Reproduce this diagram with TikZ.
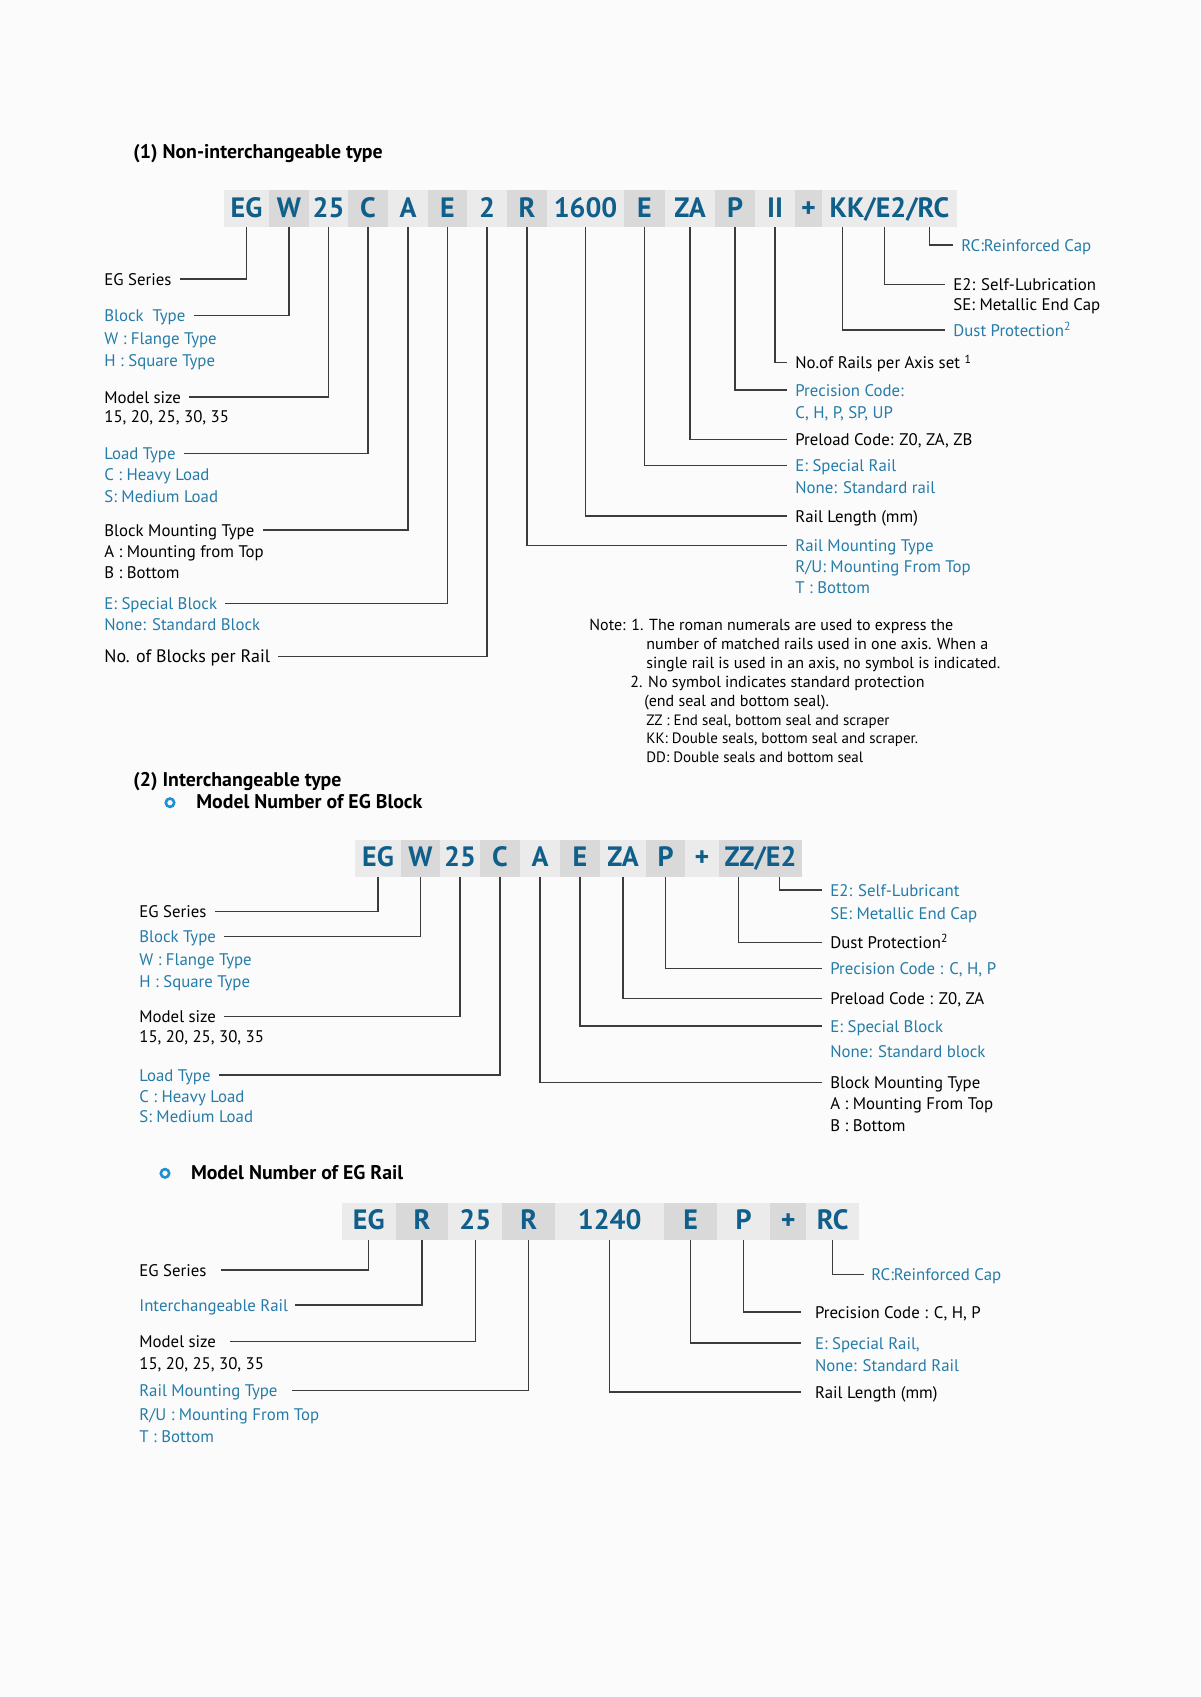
\documentclass[tikz,border=0pt]{standalone}
\usepackage{fontspec}
\setmainfont{PT Sans}
\usepackage{tikz}
\definecolor{codeblue}{RGB}{16,94,138}
\definecolor{lblblue}{RGB}{38,124,168}
\definecolor{boxlight}{RGB}{235,235,235}
\definecolor{boxdark}{RGB}{217,217,217}
\definecolor{leadgray}{RGB}{60,60,60}
\definecolor{dotblue}{RGB}{30,144,210}
\definecolor{pagebg}{RGB}{251,251,251}

\begin{document}
\begin{tikzpicture}[x=0.5pt,y=-0.5pt,
  code/.style={rectangle,inner sep=0pt,minimum height=18.5pt,text height=0.86em,text depth=0pt,text=codeblue,font=\fontsize{14}{16}\selectfont\bfseries},
  lead/.style={leadgray,line width=0.7pt},
  txt/.style={anchor=west,inner sep=0pt,text height=0.6em,text depth=0pt},
  lbl/.style={txt,inner xsep=4pt,font=\fontsize{8.4}{10}\selectfont},
  blu/.style={lbl,text=lblblue},
  lblL/.style={txt,inner xsep=7pt,font=\fontsize{8.4}{10}\selectfont},
  bluL/.style={lblL,text=lblblue},
  note/.style={txt,font=\fontsize{8}{10}\selectfont},
  notes/.style={txt,font=\fontsize{7.5}{9}\selectfont},
  title/.style={txt,font=\fontsize{9.9}{12}\selectfont\bfseries},
  bullet/.style={dotblue,line width=1.3pt}
]
\useasboundingbox (0,0) rectangle (1200,1697);
\fill[pagebg] (0,0) rectangle (1200,1697);

% (1) non-interchangeable
\node[title] (sec1) at (133,152) {(1) Non-interchangeable type};

\foreach \n/\xl/\xr/\txt/\fc in {1/224/269/EG/boxlight,2/269/309/W/boxdark,3/309/348/25/boxlight,
  4/348/388/C/boxdark,5/388/428/A/boxlight,6/428/467/E/boxdark,7/467/507/2/boxlight,
  8/507/547/R/boxdark,9/547/624/1600/boxlight,10/624/665/E/boxdark,11/665/715/ZA/boxlight,
  12/715/755/P/boxdark,13/755/795/II/boxlight,14/795/822/+/boxdark,15/822/957/{KK/E2/RC}/boxlight}{
  \node[code,fill=\fc,minimum width={(\xr-\xl)*0.5pt}] (a\n) at ({(\xl+\xr)/2},208.5) {\txt};
}

% left side
\node[lbl] (egser1) at (96,279) {EG Series};
\node[blu] (btype1) at (96,315.7) {Block~~Type};
\node[blu] (btypew1) at (96,338.3) {W : Flange Type};
\node[blu] (btypeh1) at (96,360) {H : Square Type};
\node[lbl] (msize1) at (96,397) {Model size};
\node[lbl] (msizev1) at (96,416.7) {15, 20, 25, 30, 35};
\node[blu] (ltype1) at (96,453.5) {Load Type};
\node[blu] (ltypec1) at (96,474) {C : Heavy Load};
\node[blu] (ltypes1) at (96,496) {S: Medium Load};
\node[lbl] (bmount1) at (96,530) {Block Mounting Type};
\node[lbl] (bmounta1) at (96,551) {A : Mounting from Top};
\node[lbl] (bmountb1) at (96,572.7) {B : Bottom};
\node[blu] (eblock1) at (96,603.5) {E: Special Block};
\node[blu] (eblockn1) at (96,624) {None: Standard Block};
\node[lbl,font=\fontsize{9}{11}\selectfont] (nblock1) at (96,656.5) {No. of Blocks per Rail};

% right side
\node[blu] (rcap1) at (953,245) {RC:Reinforced Cap};
\node[lbl] (lube1) at (945,284.3) {E2: Self-Lubrication};
\node[lbl] (lubese1) at (945,304.3) {SE: Metallic End Cap};
\node[blu] (dust1) at (945,330) {Dust Protection\textsuperscript{2}};
\node[lbl] (nrail1) at (787,362.7) {No.of Rails per Axis set \textsuperscript{1}};
\node[blu] (prec1) at (787,390) {Precision Code:};
\node[blu] (precv1) at (787,412.7) {C, H, P, SP, UP};
\node[lbl] (prel1) at (787,439.3) {Preload Code: Z0, ZA, ZB};
\node[blu] (erail1) at (787,465.7) {E: Special Rail};
\node[blu] (erailn1) at (787,487) {None: Standard rail};
\node[lbl] (rlen1) at (787,516) {Rail Length (mm)};
\node[blu] (rmount1) at (787,545.3) {Rail Mounting Type};
\node[blu] (rmountr1) at (787,566) {R/U: Mounting From Top};
\node[blu] (rmountt1) at (787,587.3) {T : Bottom};

\draw[lead] (a1.south) |- (egser1.east);
\draw[lead] (a2.south) |- (btype1.east);
\draw[lead] (a3.south) |- (msize1.east);
\draw[lead] (a4.south) |- (ltype1.east);
\draw[lead] (a5.south) |- (bmount1.east);
\draw[lead] (a6.south) |- (eblock1.east);
\draw[lead] (a7.south) |- (nblock1.east);
\draw[lead] (a8.south) |- (rmount1.west);
\draw[lead] (a9.south) |- (rlen1.west);
\draw[lead] (a10.south) |- (erail1.west);
\draw[lead] (a11.south) |- (prel1.west);
\draw[lead] (a12.south) |- (prec1.west);
\draw[lead] (a13.south) |- (nrail1.west);
\draw[lead] (a15.south west) ++(21,0) |- (dust1.west);
\draw[lead] (a15.south west) ++(63,0) |- (lube1.west);
\draw[lead] (a15.south west) ++(108,0) |- (rcap1.west);

% notes
\node[note] (note1) at (589,624) {Note: 1. The roman numerals are used to express the};
\node[note] (note2) at (646,643.3) {number of matched rails used in one axis. When a};
\node[note] (note3) at (646,662.3) {single rail is used in an axis, no symbol is indicated.};
\node[note] (note4) at (630,681) {2. No symbol indicates standard protection};
\node[note] (note5) at (644,700) {(end seal and bottom seal).};
\node[notes] (note6) at (646,719) {ZZ : End seal, bottom seal and scraper};
\node[notes] (note7) at (646,737.3) {KK: Double seals, bottom seal and scraper.};
\node[notes] (note8) at (646,756) {DD: Double seals and bottom seal};

% (2) interchangeable - block
\node[title] (sec2) at (133,780) {(2) Interchangeable type};
\draw[bullet] (170,802.7) circle[radius=2.1pt];
\node[title] (sub2a) at (196,802.7) {Model Number of EG Block};

\foreach \n/\xl/\xr/\txt/\fc in {1/355/401/EG/boxlight,2/401/440/W/boxdark,3/440/480/25/boxlight,
  4/480/520/C/boxdark,5/520/560/A/boxlight,6/560/600/E/boxdark,7/600/646/ZA/boxlight,
  8/646/685/P/boxdark,9/685/719/+/boxlight,10/719/802/{ZZ/E2}/boxdark}{
  \node[code,fill=\fc,minimum width={(\xr-\xl)*0.5pt}] (b\n) at ({(\xl+\xr)/2},858.3) {\txt};
}

\node[lbl] (egser2) at (131,911.7) {EG Series};
\node[blu] (btype2) at (131,936.7) {Block Type};
\node[blu] (btypew2) at (131,959.3) {W : Flange Type};
\node[blu] (btypeh2) at (131,981.7) {H : Square Type};
\node[lbl] (msize2) at (131,1016.5) {Model size};
\node[lbl] (msizev2) at (131,1036.7) {15, 20, 25, 30, 35};
\node[blu] (ltype2) at (131,1075) {Load Type};
\node[blu] (ltypec2) at (131,1096) {C : Heavy Load};
\node[blu] (ltypes2) at (131,1116.7) {S: Medium Load};

\node[blu] (lube2) at (822,890) {E2: Self-Lubricant};
\node[blu] (lubese2) at (822,913.3) {SE: Metallic End Cap};
\node[lbl] (dust2) at (822,942.3) {Dust Protection\textsuperscript{2}};
\node[blu] (prec2) at (822,968.3) {Precision Code : C, H, P};
\node[lbl] (prel2) at (822,998.3) {Preload Code : Z0, ZA};
\node[blu] (eblock2) at (822,1026) {E: Special Block};
\node[blu] (eblockn2) at (822,1051) {None: Standard block};
\node[lbl] (bmount2) at (822,1082.5) {Block Mounting Type};
\node[lbl] (bmounta2) at (822,1103.3) {A : Mounting From Top};
\node[lbl] (bmountb2) at (822,1125.7) {B : Bottom};

\draw[lead] (b1.south) |- (egser2.east);
\draw[lead] (b2.south) |- (btype2.east);
\draw[lead] (b3.south) |- (msize2.east);
\draw[lead] (b4.south) |- (ltype2.east);
\draw[lead] (b5.south) |- (bmount2.west);
\draw[lead] (b6.south) |- (eblock2.west);
\draw[lead] (b7.south) |- (prel2.west);
\draw[lead] (b8.south) |- (prec2.west);
\draw[lead] (b10.south west) ++(20,0) |- (dust2.west);
\draw[lead] (b10.south west) ++(61,0) |- (lube2.west);

% (2) interchangeable - rail
\draw[bullet] (165,1173.3) circle[radius=2.1pt];
\node[title] (sub2b) at (190.6,1173.3) {Model Number of EG Rail};

\foreach \n/\xl/\xr/\txt/\fc in {1/342/395.5/EG/boxlight,2/395.5/448.4/R/boxdark,3/448.4/502.3/25/boxlight,
  4/502.3/555.1/R/boxdark,5/555.1/664.2/1240/boxlight,6/664.2/717/E/boxdark,7/717/770.4/P/boxlight,
  8/770.4/806/+/boxdark,9/806/859.4/RC/boxlight}{
  \node[code,fill=\fc,minimum width={(\xr-\xl)*0.5pt}] (c\n) at ({(\xl+\xr)/2},1221.3) {\txt};
}

\node[lblL] (egser3) at (125,1270) {EG Series};
\node[bluL,inner xsep=3.5pt] (irail3) at (132,1305) {Interchangeable Rail};
\node[lblL] (msize3) at (125,1341.5) {Model size};
\node[lblL] (msizev3) at (125,1363.3) {15, 20, 25, 30, 35};
\node[bluL] (rmount3) at (125,1390.5) {Rail Mounting Type};
\node[bluL] (rmountr3) at (125,1414.3) {R/U : Mounting From Top};
\node[bluL] (rmountt3) at (125,1436.7) {T : Bottom};

\node[bluL,inner xsep=3.5pt] (rcap3) at (864,1274.3) {RC:Reinforced Cap};
\node[lblL] (prec3) at (800.6,1312) {Precision Code : C, H, P};
\node[bluL] (erail3) at (800.6,1343) {E: Special Rail,};
\node[bluL] (erailn3) at (800.6,1365) {None: Standard Rail};
\node[lblL] (rlen3) at (800.6,1392) {Rail Length (mm)};

\draw[lead] (c1.south) |- (egser3.east);
\draw[lead] (c2.south) |- (irail3.east);
\draw[lead] (c3.south) |- (msize3.east);
\draw[lead] (c4.south) |- (rmount3.east);
\draw[lead] (c5.south) |- (rlen3.west);
\draw[lead] (c6.south) |- (erail3.west);
\draw[lead] (c7.south) |- (prec3.west);
\draw[lead] (c9.south) |- (rcap3.west);

\end{tikzpicture}
\end{document}
